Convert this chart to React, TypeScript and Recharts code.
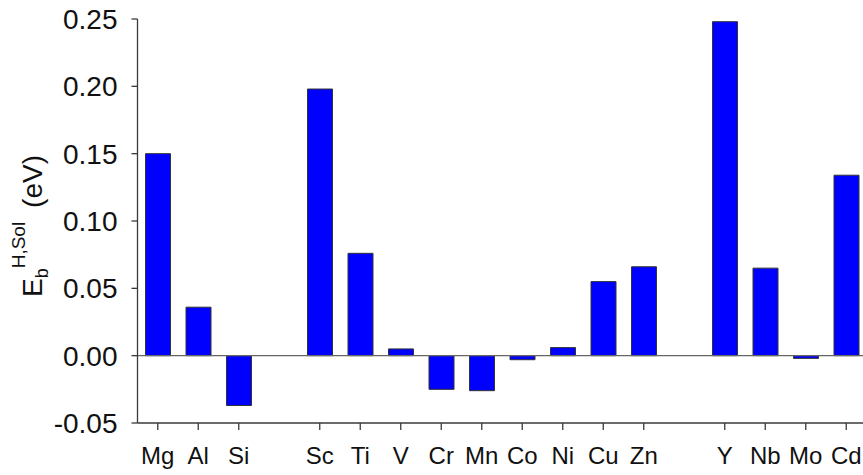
import { BarChart, Bar, XAxis, YAxis, ReferenceLine } from "recharts";
import type { CSSProperties } from "react";

// empty strings are the blank slots between element groups
const ELEMENTS = ["Mg", "Al", "Si", "", "Sc", "Ti", "V", "Cr", "Mn", "Co", "Ni", "Cu", "Zn", "", "Y", "Nb", "Mo", "Cd"];
const BINDING = [0.15, 0.036, -0.037, null, 0.198, 0.076, 0.005, -0.025, -0.026, -0.003, 0.006, 0.055, 0.066, null, 0.248, 0.065, -0.002, 0.134];
const Y_TICKS = [-0.05, 0, 0.05, 0.1, 0.15, 0.2, 0.25];

const data = ELEMENTS.map((name, i) => ({ name, eb: BINDING[i] }));

const FONT = "'Liberation Sans', Arial, sans-serif";
const AXIS = "#3a3a3a";
const TICK_SIZE = 7;
const TICK_MARGIN = 17;

function ElementTick(props: any) {
  const { x, y, payload } = props;
  if (!payload.value) return null;
  return (
    <g>
      <line x1={x} x2={x} y1={y - TICK_MARGIN - TICK_SIZE} y2={y - TICK_MARGIN} stroke={AXIS} strokeWidth={1.3} />
      <text x={x} y={y} dy="0.71em" textAnchor="middle" fontFamily={FONT} fontSize={24} fill="#111">
        {payload.value}
      </text>
    </g>
  );
}

function EnergyLabel() {
  // E_b^{H,Sol} (eV), rotated
  return (
    <text transform="translate(42,226) rotate(-90)" textAnchor="middle" fontFamily={FONT} fill="#111">
      <tspan fontSize={28}>E</tspan>
      <tspan fontSize={18} dy={6}>b</tspan>
      <tspan fontSize={19} dy={-23}>H,Sol</tspan>
      <tspan fontSize={28} dy={17} dx={14}>(eV)</tspan>
    </text>
  );
}

export default function App() {
  return (
    <div style={frame}>
      <BarChart width={880} height={475} data={data} margin={{ top: 19, right: 13.5, bottom: 0, left: 0 }} barSize={25}>
        <XAxis
          dataKey="name"
          height={52}
          padding={{ left: 0, right: 0 }}
          axisLine={{ stroke: AXIS, strokeWidth: 1.3 }}
          tickLine={false}
          tickSize={TICK_SIZE}
          tickMargin={TICK_MARGIN}
          tick={<ElementTick />}
          interval={0}
        />
        <YAxis
          type="number"
          domain={[-0.05, 0.25]}
          ticks={Y_TICKS}
          width={137.5}
          tickFormatter={(v: number) => v.toFixed(2)}
          tick={{ fontFamily: FONT, fontSize: 28, fill: "#111" }}
          tickSize={6}
          tickMargin={14}
          axisLine={{ stroke: AXIS, strokeWidth: 1.3 }}
          tickLine={{ stroke: AXIS, strokeWidth: 1.3 }}
          label={{ content: () => <EnergyLabel /> }}
        />
        <ReferenceLine y={0} stroke="#666" strokeWidth={1.3} />
        <Bar dataKey="eb" fill="#0000ff" stroke="#333" strokeWidth={1} isAnimationActive={false} />
      </BarChart>
    </div>
  );
}

const frame: CSSProperties = {
  position: "absolute",
  left: 0,
  top: 0,
  width: 863,
  height: 475,
  overflow: "hidden",
  background: "#fff",
};
